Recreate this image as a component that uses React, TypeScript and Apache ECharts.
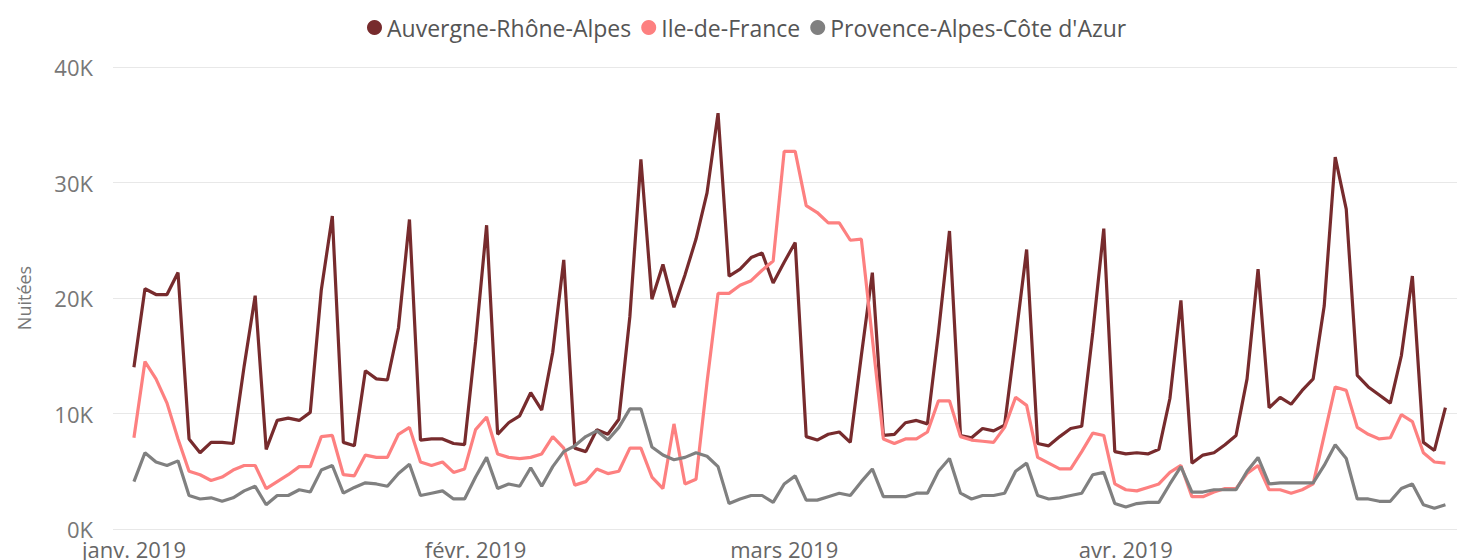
import React, { useEffect, useRef } from "react";
import * as echarts from "echarts";

const seriesNames = ["Auvergne-Rhône-Alpes", "Ile-de-France", "Provence-Alpes-Côte d'Azur"];
const seriesColors = ["#772B2D", "#FD8080", "#808080"];

// daily values from 1 Jan 2019 to 30 Apr 2019 (in thousands of nights)
const auvergne = [
  14.0, 20.8, 20.3, 20.3, 22.2, 7.8, 6.6, 7.5, 7.5, 7.4,
  14.1, 20.2, 6.9, 9.4, 9.6, 9.4, 10.1, 20.7, 27.1, 7.5,
  7.2, 13.7, 13.0, 12.9, 17.4, 26.8, 7.7, 7.8, 7.8, 7.4,
  7.3, 16.2, 26.3, 8.2, 9.2, 9.8, 11.8, 10.3, 15.3, 23.3,
  7.0, 6.7, 8.6, 8.2, 9.5, 18.4, 32.0, 19.9, 22.9, 19.2,
  22.0, 25.1, 29.1, 36.0, 21.9, 22.5, 23.5, 23.9, 21.3, 23.1,
  24.8, 8.0, 7.7, 8.2, 8.4, 7.5, 15.0, 22.2, 8.1, 8.2,
  9.2, 9.4, 9.1, 17.0, 25.8, 8.1, 7.9, 8.7, 8.5, 9.0,
  16.5, 24.2, 7.4, 7.2, 8.0, 8.7, 8.9, 17.0, 26.0, 6.7,
  6.5, 6.6, 6.5, 6.9, 11.3, 19.8, 5.7, 6.4, 6.6, 7.3,
  8.1, 13.0, 22.5, 10.5, 11.4, 10.8, 12.0, 13.0, 19.3, 32.2,
  27.7, 13.3, 12.3, 11.6, 10.9, 15.0, 21.9, 7.5, 6.8, 10.5,
];
const ileDeFrance = [
  7.9, 14.5, 13.0, 10.9, 7.8, 5.0, 4.7, 4.2, 4.5, 5.1,
  5.5, 5.5, 3.5, 4.1, 4.7, 5.4, 5.4, 8.0, 8.1, 4.7,
  4.6, 6.4, 6.2, 6.2, 8.2, 8.8, 5.8, 5.5, 5.8, 4.9,
  5.2, 8.6, 9.7, 6.5, 6.2, 6.1, 6.2, 6.5, 8.0, 7.0,
  3.8, 4.1, 5.2, 4.8, 5.0, 7.0, 7.0, 4.5, 3.5, 9.1,
  3.9, 4.3, 12.7, 20.4, 20.4, 21.1, 21.5, 22.4, 23.2, 32.7,
  32.7, 28.0, 27.4, 26.5, 26.5, 25.0, 25.1, 16.5, 7.8, 7.4,
  7.8, 7.8, 8.4, 11.1, 11.1, 8.0, 7.7, 7.6, 7.5, 8.8,
  11.4, 10.7, 6.2, 5.7, 5.2, 5.2, 6.7, 8.3, 8.1, 3.9,
  3.4, 3.3, 3.6, 3.9, 4.9, 5.5, 2.8, 2.8, 3.2, 3.5,
  3.5, 4.8, 5.5, 3.4, 3.4, 3.1, 3.4, 3.9, 8.1, 12.3,
  12.0, 8.8, 8.2, 7.8, 7.9, 9.9, 9.3, 6.6, 5.8, 5.7,
];
const provence = [
  4.1, 6.6, 5.8, 5.5, 5.9, 2.9, 2.6, 2.7, 2.4, 2.7,
  3.3, 3.7, 2.1, 2.9, 2.9, 3.4, 3.2, 5.1, 5.5, 3.1,
  3.6, 4.0, 3.9, 3.7, 4.8, 5.6, 2.9, 3.1, 3.3, 2.6,
  2.6, 4.5, 6.2, 3.5, 3.9, 3.7, 5.3, 3.7, 5.4, 6.7,
  7.2, 8.0, 8.5, 7.7, 8.8, 10.4, 10.4, 7.1, 6.4, 6.0,
  6.2, 6.6, 6.3, 5.4, 2.2, 2.6, 2.9, 2.9, 2.3, 3.9,
  4.6, 2.5, 2.5, 2.8, 3.1, 2.9, 4.1, 5.2, 2.8, 2.8,
  2.8, 3.1, 3.1, 5.0, 6.1, 3.1, 2.6, 2.9, 2.9, 3.1,
  5.0, 5.7, 2.9, 2.6, 2.7, 2.9, 3.1, 4.7, 4.9, 2.2,
  1.9, 2.2, 2.3, 2.3, 3.9, 5.4, 3.2, 3.2, 3.4, 3.4,
  3.4, 5.0, 6.2, 3.9, 4.0, 4.0, 4.0, 4.0, 5.5, 7.3,
  6.1, 2.6, 2.6, 2.4, 2.4, 3.5, 3.9, 2.1, 1.8, 2.1,
];
const allSeries = [auvergne, ileDeFrance, provence];

// month start positions (day index) and their labels
const monthTicks = [0, 31, 59, 90];
const monthLabels = ["janv. 2019", "févr. 2019", "mars 2019", "avr. 2019"];

const yTicks = [0, 10000, 20000, 30000, 40000];

const FONT = "'Open Sans', 'Noto Sans', sans-serif";

export default function App() {
  const ref = useRef<HTMLDivElement>(null);

  useEffect(() => {
    if (!ref.current) return;
    const chart = echarts.init(ref.current, undefined, { renderer: "svg" });
    chart.setOption({
      animation: false,
      backgroundColor: "#ffffff",
      textStyle: { fontFamily: FONT },
      legend: {
        top: 11,
        left: 362,
        icon: "circle",
        itemWidth: 15,
        itemHeight: 15,
        itemGap: 10,
        textStyle: { color: "#555555", fontSize: 23, fontFamily: FONT },
        data: seriesNames,
      },
      grid: { left: 113, right: 0, top: 67, bottom: 29.5, containLabel: false },
      xAxis: {
        type: "value",
        min: -1.9,
        max: 120.05,
        axisLine: { show: false },
        axisTick: { show: false },
        splitLine: { show: false },
        axisLabel: {
          customValues: monthTicks,
          color: "#666666",
          fontSize: 22,
          fontFamily: FONT,
          margin: 9,
          formatter: (v: number) => {
            const i = monthTicks.indexOf(Math.round(v));
            return i >= 0 ? monthLabels[i] : "";
          },
        },
      },
      yAxis: {
        type: "value",
        min: 0,
        max: 40000,
        interval: 10000,
        name: "Nuitées",
        nameLocation: "middle",
        nameGap: 80,
        nameRotate: 90,
        nameTextStyle: { color: "#777777", fontSize: 18, fontFamily: FONT },
        axisLine: { show: false },
        axisTick: { show: false },
        axisLabel: {
          color: "#777777",
          fontSize: 22,
          fontFamily: FONT,
          margin: 20,
          formatter: (v: number) => (yTicks.includes(v) ? `${v / 1000}K` : ""),
        },
        splitLine: { lineStyle: { color: "#E8E8E8", width: 1 } },
      },
      series: seriesNames.map((name, s) => ({
        name,
        type: "line",
        showSymbol: false,
        symbol: "circle",
        color: seriesColors[s],
        lineStyle: { width: 3.2, color: seriesColors[s] },
        data: allSeries[s].map((v, i) => [i, v * 1000]),
      })),
    });
    return () => chart.dispose();
  }, []);

  return (
    <div
      ref={ref}
      style={{ position: "fixed", left: 0, top: 0, width: 1457, height: 560 }}
    />
  );
}
